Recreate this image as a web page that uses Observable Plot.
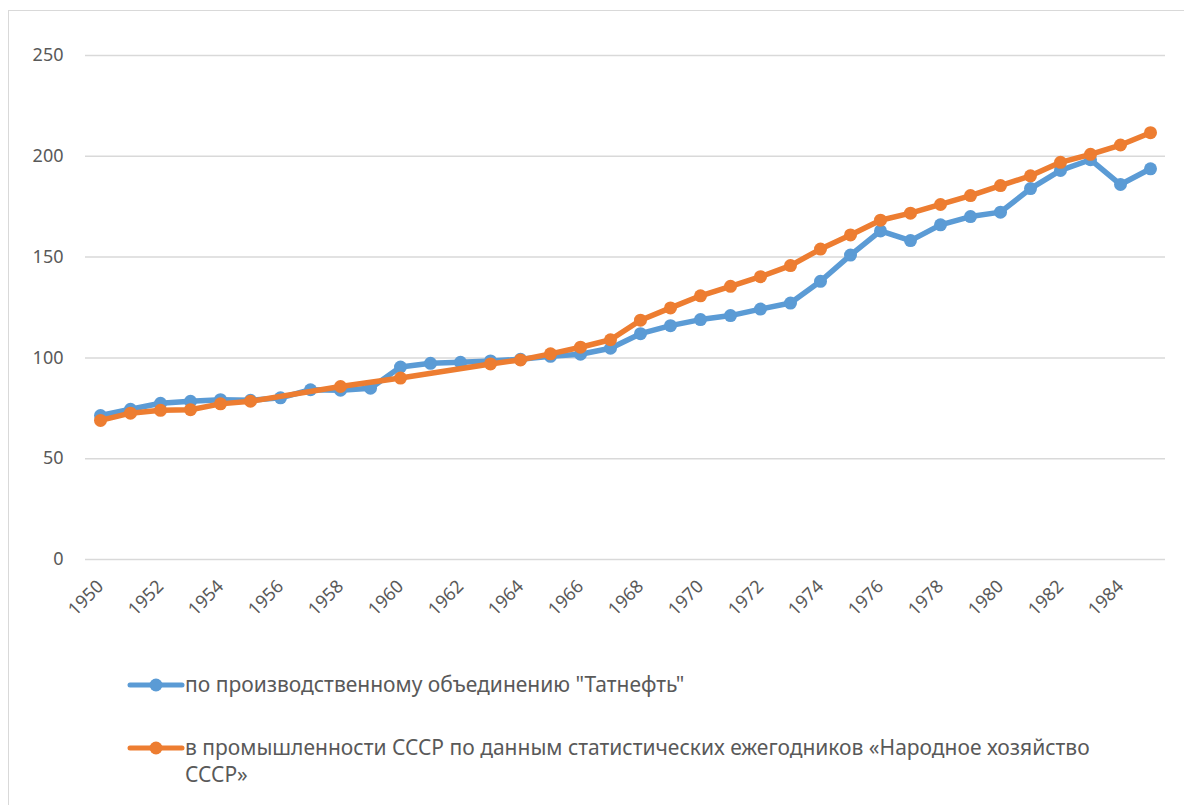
<!DOCTYPE html>
<html><head><meta charset="utf-8">
<script src="https://cdn.jsdelivr.net/npm/d3@7"></script>
<script src="https://cdn.jsdelivr.net/npm/@observablehq/plot@0.6"></script>
<style>
body{margin:0;background:#fff;font-family:"Noto Sans",sans-serif;overflow:hidden;}
#frame{position:absolute;left:8px;top:10px;width:1220px;height:840px;border:1.5px solid #D9D9D9;box-sizing:border-box;}
#chart{position:absolute;left:0;top:0;}
.leg{position:absolute;left:127px;color:#595959;font-size:21px;line-height:27px;display:flex;align-items:flex-start;white-space:nowrap;}
.leg svg{flex:none;margin-top:6px;}
</style></head>
<body>
<div id="frame"></div>
<div id="chart"></div>
<div class="leg" id="leg1" style="top:671px"></div>
<div class="leg" id="leg2" style="top:734px"></div>
<script>
const years = [1950,1951,1952,1953,1954,1955,1956,1957,1958,1959,1960,1961,1962,1963,1964,1965,1966,1967,1968,1969,1970,1971,1972,1973,1974,1975,1976,1977,1978,1979,1980,1981,1982,1983,1984,1985];
const tatneft = [71.4,74.5,77.5,78.5,79.3,79,80.2,84.2,84,85,95.5,97.3,97.8,98.5,99.3,100.8,101.8,104.8,112,116,119,121,124.2,127.2,138,151,163,158.2,166,170.1,172.3,184,193,198.3,186,193.8];
const ussr = [69,72.6,74,74.3,77.2,78.5,null,null,85.8,null,90,null,null,97,99,102,105.3,109,118.7,124.8,130.8,135.5,140.3,145.8,154,161,168.3,171.8,176.1,180.5,185.5,190.3,197,201,205.6,211.7];
const yTicks = [0,50,100,150,200,250];
const xTicks = [1950,1952,1954,1956,1958,1960,1962,1964,1966,1968,1970,1972,1974,1976,1978,1980,1982,1984];
const seriesNames = ["по производственному объединению \"Татнефть\"", "в промышленности СССР по данным статистических ежегодников «Народное хозяйство<br>СССР»"];
const colors = ["#5B9BD5", "#ED7D31"];

const blue = years.map((y,i)=>({year:y, value:tatneft[i]})).filter(d=>d.value!=null);
const orange = years.map((y,i)=>({year:y, value:ussr[i]})).filter(d=>d.value!=null);

const chart = Plot.plot({
  width: 1184, height: 650,
  marginLeft: 85, marginRight: 19, marginTop: 55, marginBottom: 91,
  style: {fontFamily: "'Noto Sans', sans-serif", fontSize: "18px", color: "#595959", background: "transparent"},
  x: {type: "linear", domain: [1949.5, 1985.5], ticks: xTicks, tickFormat: d => String(d), tickRotate: -45, tickSize: 0, tickPadding: 24, label: null},
  y: {domain: [0, 250], ticks: yTicks, tickSize: 0, tickPadding: 22, label: null},
  marks: [
    Plot.gridY(yTicks, {stroke: "#D9D9D9", strokeOpacity: 1, strokeWidth: 1.5}),
    Plot.line(blue, {x: "year", y: "value", stroke: colors[0], strokeWidth: 5.5, strokeLinejoin: "round", strokeLinecap: "round"}),
    Plot.dot(blue, {x: "year", y: "value", r: 6.5, fill: colors[0], stroke: "none"}),
    Plot.line(orange, {x: "year", y: "value", stroke: colors[1], strokeWidth: 5.5, strokeLinejoin: "round", strokeLinecap: "round"}),
    Plot.dot(orange, {x: "year", y: "value", r: 6.5, fill: colors[1], stroke: "none"})
  ]
});
document.getElementById("chart").append(chart);

function swatch(c){
  return `<svg width="58" height="16"><line x1="3" y1="8" x2="55" y2="8" stroke="${c}" stroke-width="5" stroke-linecap="round"/><circle cx="29" cy="8" r="6.5" fill="${c}"/></svg>`;
}
document.getElementById("leg1").innerHTML = swatch(colors[0]) + `<span>${seriesNames[0]}</span>`;
document.getElementById("leg2").innerHTML = swatch(colors[1]) + `<span>${seriesNames[1]}</span>`;
</script>
</body></html>
